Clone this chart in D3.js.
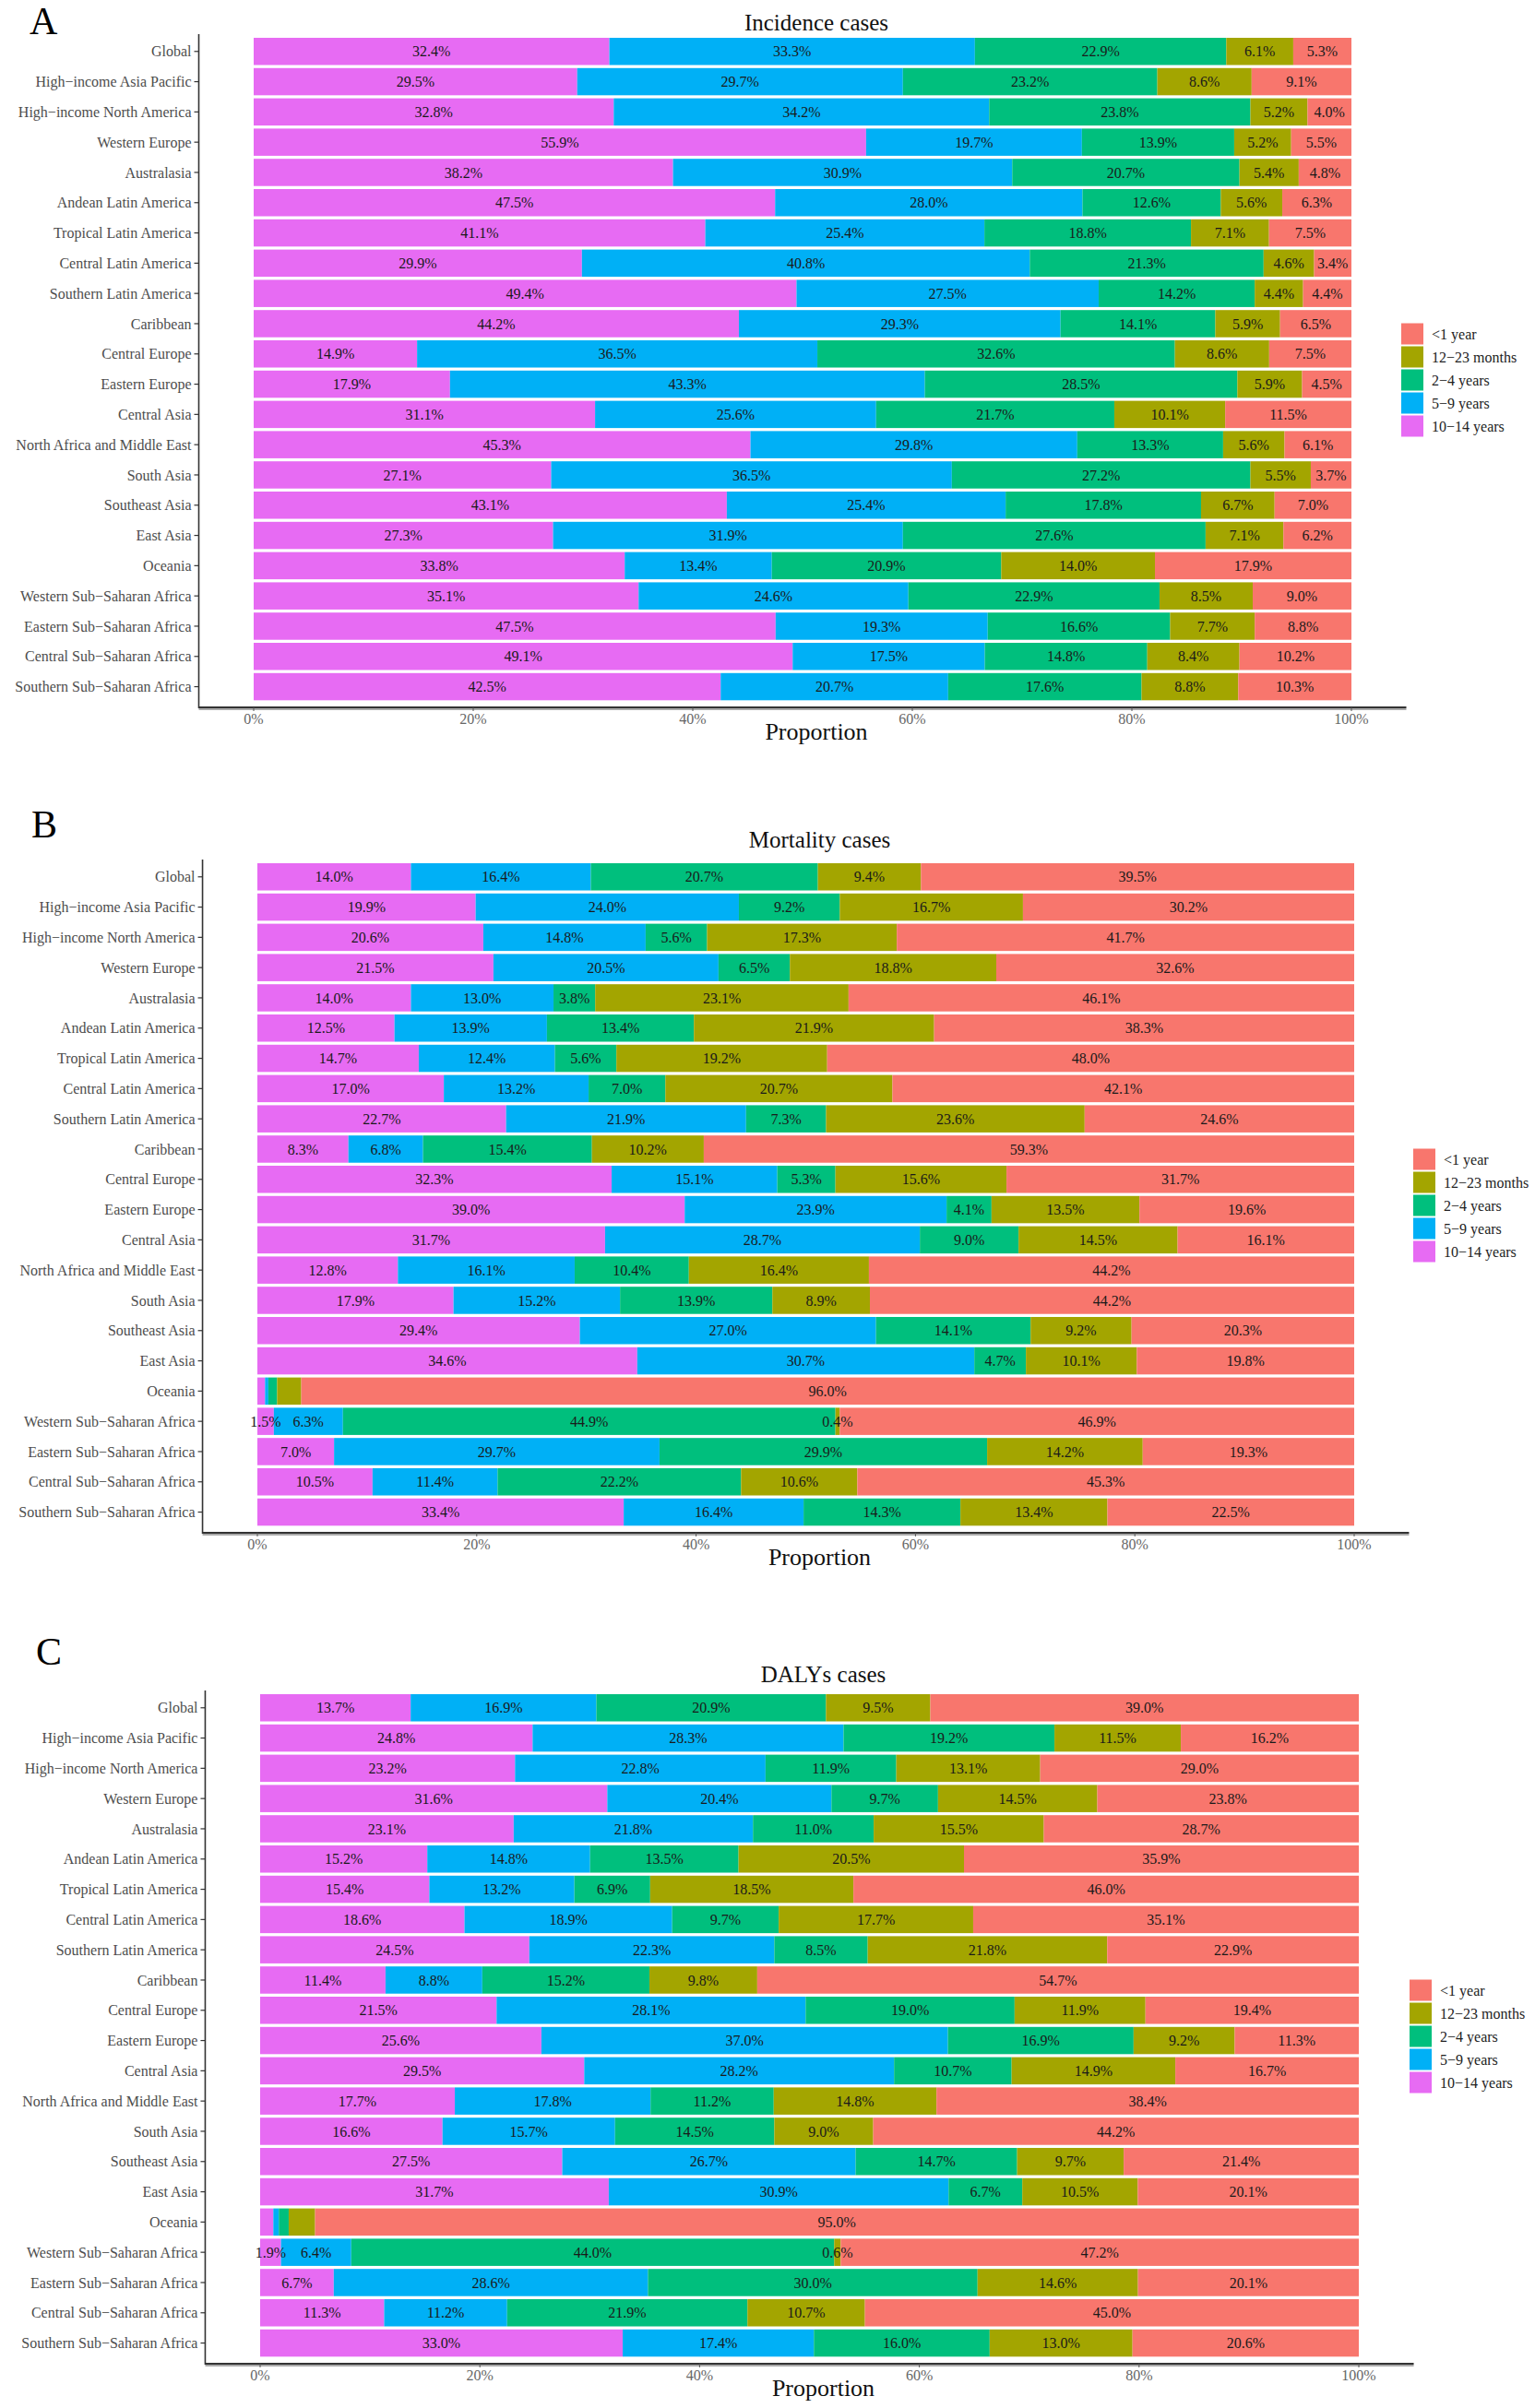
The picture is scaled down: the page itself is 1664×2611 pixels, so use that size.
<!DOCTYPE html>
<html>
<head>
<meta charset="utf-8">
<script src="https://cdn.jsdelivr.net/npm/d3@7"></script>
<style>
  body { margin: 0; background: #fff; }
  text { font-family: "Liberation Serif", "DejaVu Serif", serif; }
</style>
</head>
<body>
<svg id="chart" width="1664" height="2611"></svg>
<script>
// regions top to bottom
var regions = ["Global", "High−income Asia Pacific", "High−income North America", "Western Europe",
  "Australasia", "Andean Latin America", "Tropical Latin America", "Central Latin America",
  "Southern Latin America", "Caribbean", "Central Europe", "Eastern Europe", "Central Asia",
  "North Africa and Middle East", "South Asia", "Southeast Asia", "East Asia", "Oceania",
  "Western Sub−Saharan Africa", "Eastern Sub−Saharan Africa", "Central Sub−Saharan Africa",
  "Southern Sub−Saharan Africa"]

// stack order left -> right
var ageGroups = ["10−14 years", "5−9 years", "2−4 years", "12−23 months", "<1 year"]
// legend order top -> bottom
var legendOrder = ["<1 year", "12−23 months", "2−4 years", "5−9 years", "10−14 years"]
var ageColors = ["#E76BF3", "#00B0F6", "#00BF7D", "#A3A500", "#F8766D"]

var xTicks = [0, 20, 40, 60, 80, 100]

// percent per region, columns in ageGroups order
var incidenceValues = [
  [32.4, 33.3, 22.9, 6.1, 5.3],
  [29.5, 29.7, 23.2, 8.6, 9.1],
  [32.8, 34.2, 23.8, 5.2, 4.0],
  [55.9, 19.7, 13.9, 5.2, 5.5],
  [38.2, 30.9, 20.7, 5.4, 4.8],
  [47.5, 28.0, 12.6, 5.6, 6.3],
  [41.1, 25.4, 18.8, 7.1, 7.5],
  [29.9, 40.8, 21.3, 4.6, 3.4],
  [49.4, 27.5, 14.2, 4.4, 4.4],
  [44.2, 29.3, 14.1, 5.9, 6.5],
  [14.9, 36.5, 32.6, 8.6, 7.5],
  [17.9, 43.3, 28.5, 5.9, 4.5],
  [31.1, 25.6, 21.7, 10.1, 11.5],
  [45.3, 29.8, 13.3, 5.6, 6.1],
  [27.1, 36.5, 27.2, 5.5, 3.7],
  [43.1, 25.4, 17.8, 6.7, 7.0],
  [27.3, 31.9, 27.6, 7.1, 6.2],
  [33.8, 13.4, 20.9, 14.0, 17.9],
  [35.1, 24.6, 22.9, 8.5, 9.0],
  [47.5, 19.3, 16.6, 7.7, 8.8],
  [49.1, 17.5, 14.8, 8.4, 10.2],
  [42.5, 20.7, 17.6, 8.8, 10.3]
]

var mortalityValues = [
  [14.0, 16.4, 20.7, 9.4, 39.5],
  [19.9, 24.0, 9.2, 16.7, 30.2],
  [20.6, 14.8, 5.6, 17.3, 41.7],
  [21.5, 20.5, 6.5, 18.8, 32.6],
  [14.0, 13.0, 3.8, 23.1, 46.1],
  [12.5, 13.9, 13.4, 21.9, 38.3],
  [14.7, 12.4, 5.6, 19.2, 48.0],
  [17.0, 13.2, 7.0, 20.7, 42.1],
  [22.7, 21.9, 7.3, 23.6, 24.6],
  [8.3, 6.8, 15.4, 10.2, 59.3],
  [32.3, 15.1, 5.3, 15.6, 31.7],
  [39.0, 23.9, 4.1, 13.5, 19.6],
  [31.7, 28.7, 9.0, 14.5, 16.1],
  [12.8, 16.1, 10.4, 16.4, 44.2],
  [17.9, 15.2, 13.9, 8.9, 44.2],
  [29.4, 27.0, 14.1, 9.2, 20.3],
  [34.6, 30.7, 4.7, 10.1, 19.8],
  [0.7, 0.3, 0.8, 2.2, 96.0],
  [1.5, 6.3, 44.9, 0.4, 46.9],
  [7.0, 29.7, 29.9, 14.2, 19.3],
  [10.5, 11.4, 22.2, 10.6, 45.3],
  [33.4, 16.4, 14.3, 13.4, 22.5]
]

var dalysValues = [
  [13.7, 16.9, 20.9, 9.5, 39.0],
  [24.8, 28.3, 19.2, 11.5, 16.2],
  [23.2, 22.8, 11.9, 13.1, 29.0],
  [31.6, 20.4, 9.7, 14.5, 23.8],
  [23.1, 21.8, 11.0, 15.5, 28.7],
  [15.2, 14.8, 13.5, 20.5, 35.9],
  [15.4, 13.2, 6.9, 18.5, 46.0],
  [18.6, 18.9, 9.7, 17.7, 35.1],
  [24.5, 22.3, 8.5, 21.8, 22.9],
  [11.4, 8.8, 15.2, 9.8, 54.7],
  [21.5, 28.1, 19.0, 11.9, 19.4],
  [25.6, 37.0, 16.9, 9.2, 11.3],
  [29.5, 28.2, 10.7, 14.9, 16.7],
  [17.7, 17.8, 11.2, 14.8, 38.4],
  [16.6, 15.7, 14.5, 9.0, 44.2],
  [27.5, 26.7, 14.7, 9.7, 21.4],
  [31.7, 30.9, 6.7, 10.5, 20.1],
  [1.2, 0.5, 0.9, 2.4, 95.0],
  [1.9, 6.4, 44.0, 0.6, 47.2],
  [6.7, 28.6, 30.0, 14.6, 20.1],
  [11.3, 11.2, 21.9, 10.7, 45.0],
  [33.0, 17.4, 16.0, 13.0, 20.6]
]

var svg = d3.select("#chart")
var color = d3.scaleOrdinal().domain(ageGroups).range(ageColors)

// layout of the three panels
var panels = [
  {letter: "A", title: "Incidence cases", values: incidenceValues, top: 41, x0: 275, x1: 1465, legX: 1519, titleDy: -8, letterY: 37, letterX: 32},
  {letter: "B", title: "Mortality cases", values: mortalityValues, top: 936, x0: 279, x1: 1468, legX: 1532, titleDy: -17, letterY: 908, letterX: 34},
  {letter: "C", title: "DALYs cases", values: dalysValues, top: 1837, x0: 282, x1: 1473, legX: 1528, titleDy: -13, letterY: 1805, letterX: 39}
]

var step = 32.8

panels.forEach(function (p) {
  var g = svg.append("g")
  var x = d3.scaleLinear().domain([0, 100]).range([p.x0, p.x1])
  var pad = (p.x1 - p.x0) * 0.05
  var axisX = p.x0 - pad
  var y = d3.scaleBand().domain(regions)
    .range([p.top - 0.05 * step, p.top - 0.05 * step + regions.length * step])
    .paddingInner(0.1).paddingOuter(0.05)
  var bottom = p.top + regions.length * step - step * 0.1
  var axisY = p.top + 726
  var mid = (p.x0 + p.x1) / 2 + 15

  // stacked rows (fill to 100%)
  var rows = regions.map(function (r, i) {
    var vals = p.values[i]
    var total = d3.sum(vals)
    var acc = 0
    return vals.map(function (v, j) {
      var s = {region: r, age: ageGroups[j], value: v, start: acc / total * 100, end: (acc + v) / total * 100}
      acc += v
      return s
    })
  })
  var segs = [].concat.apply([], rows)

  g.selectAll("rect.seg").data(segs).enter().append("rect")
    .attr("class", "seg")
    .attr("x", function (d) { return x(d.start) })
    .attr("width", function (d) { return x(d.end) - x(d.start) })
    .attr("y", function (d) { return y(d.region) })
    .attr("height", y.bandwidth())
    .attr("fill", function (d) { return color(d.age) })

  g.selectAll("text.lab").data(segs.filter(function (d) { return d.region !== "Oceania" || d.value >= 5 }))
    .enter().append("text")
    .attr("class", "lab")
    .attr("x", function (d) { return x((d.start + d.end) / 2) })
    .attr("y", function (d) { return y(d.region) + y.bandwidth() / 2 })
    .attr("dy", "0.35em")
    .attr("text-anchor", "middle")
    .attr("font-size", "16px")
    .attr("fill", "#1a1a1a")
    .text(function (d) { return d.value.toFixed(1) + "%" })

  // y axis
  g.append("line").attr("x1", axisX).attr("x2", axisX)
    .attr("y1", p.top - 4).attr("y2", axisY + 1)
    .attr("stroke", "#333").attr("stroke-width", 1.6)
  g.selectAll("line.ytick").data(regions).enter().append("line")
    .attr("x1", axisX - 5).attr("x2", axisX)
    .attr("y1", function (d) { return y(d) + y.bandwidth() / 2 })
    .attr("y2", function (d) { return y(d) + y.bandwidth() / 2 })
    .attr("stroke", "#333").attr("stroke-width", 1.2)
  g.selectAll("text.ylab").data(regions).enter().append("text")
    .attr("x", axisX - 8)
    .attr("y", function (d) { return y(d) + y.bandwidth() / 2 })
    .attr("dy", "0.35em")
    .attr("text-anchor", "end")
    .attr("font-size", "16px")
    .attr("fill", "#4d4d4d")
    .text(function (d) { return d })

  // x axis
  g.append("line").attr("x1", axisX).attr("x2", p.x1 + pad)
    .attr("y1", axisY + 2).attr("y2", axisY + 2)
    .attr("stroke", "#aaa").attr("stroke-width", 2)
  g.append("line").attr("x1", axisX).attr("x2", p.x1 + pad)
    .attr("y1", axisY).attr("y2", axisY)
    .attr("stroke", "#333").attr("stroke-width", 1.8)
  g.selectAll("line.xtick").data(xTicks).enter().append("line")
    .attr("x1", function (d) { return x(d) }).attr("x2", function (d) { return x(d) })
    .attr("y1", axisY).attr("y2", axisY + 4)
    .attr("stroke", "#555").attr("stroke-width", 1)
  g.selectAll("text.xlab").data(xTicks).enter().append("text")
    .attr("x", function (d) { return x(d) })
    .attr("y", axisY + 12)
    .attr("dy", "0.35em")
    .attr("text-anchor", "middle")
    .attr("font-size", "16px")
    .attr("fill", "#666")
    .text(function (d) { return d + "%" })
  g.append("text").attr("x", mid).attr("y", axisY + 35)
    .attr("text-anchor", "middle").attr("font-size", "26px").attr("fill", "#111")
    .text("Proportion")

  // title and panel letter
  g.append("text").attr("x", mid).attr("y", p.top + p.titleDy)
    .attr("text-anchor", "middle").attr("font-size", "25px").attr("fill", "#111")
    .text(p.title)
  g.append("text").attr("x", p.letterX).attr("y", p.letterY)
    .attr("font-size", "42px").attr("fill", "#000")
    .text(p.letter)

  // legend
  var legMid = p.top + 371
  var leg = g.append("g")
  leg.selectAll("rect").data(legendOrder).enter().append("rect")
    .attr("x", p.legX)
    .attr("y", function (d, i) { return legMid + (i - 2) * 25 - 11.5 })
    .attr("width", 24).attr("height", 23)
    .attr("fill", function (d) { return color(d) })
  leg.selectAll("text").data(legendOrder).enter().append("text")
    .attr("x", p.legX + 33)
    .attr("y", function (d, i) { return legMid + (i - 2) * 25 })
    .attr("dy", "0.35em")
    .attr("font-size", "16px")
    .attr("fill", "#222")
    .text(function (d) { return d })
})
</script>
</body>
</html>
